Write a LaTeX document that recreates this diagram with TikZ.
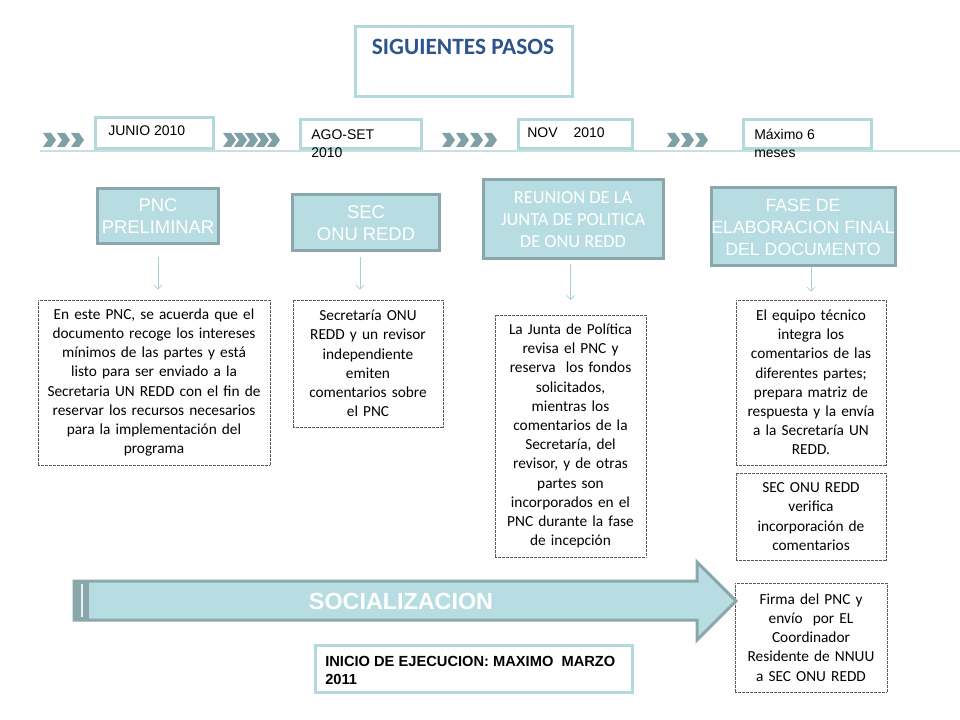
\documentclass[tikz,border=0pt]{standalone}
\usepackage{fontspec}
\setmainfont{Carlito}
\newfontfamily\arial{Liberation Sans}
\usetikzlibrary{arrows.meta}
\definecolor{tealfill}{RGB}{183,221,226}
\definecolor{tealborde}{RGB}{138,168,172}
\definecolor{fechaborde}{RGB}{180,217,221}
\definecolor{lineatiempo}{RGB}{200,222,226}
\definecolor{chevcol}{RGB}{127,160,166}
\definecolor{titulocol}{RGB}{47,84,140}
\definecolor{flechacol}{RGB}{169,208,214}
\begin{document}
\begin{tikzpicture}[x=0.75pt,y=-0.75pt,
  caja/.style={fill=tealfill,draw=tealborde,line width=2.25pt,text=white,align=center,inner sep=0pt,
    font=\arial\fontsize{13.8}{16.5}\selectfont},
  nota/.style={draw=gray!70!black,dash pattern=on 0.5pt off 0.5pt,line width=0.5pt,fill=white,
    align=center,inner sep=0pt,font=\fontsize{11.5}{14.4}\selectfont},
  marco/.style={draw=fechaborde,line width=2.25pt,fill=white},
  fechatxt/.style={align=left,inner sep=0pt,font=\arial\fontsize{10.5}{13.5}\selectfont},
  flecha/.style={draw=flechacol,line width=0.6pt,-{Straight Barb[length=3pt,width=6pt]}},
  chevron/.style={fill=chevcol}]
\useasboundingbox[fill=white] (0,0) rectangle (960,720);

\draw[marco] (355,27) rectangle (572,97);
\node[font=\bfseries\fontsize{17.5}{20}\selectfont,text=titulocol] (titulo) at (463,47) {SIGUIENTES PASOS};

\draw[lineatiempo,line width=1.1pt] (40,151) -- (960,151);
\foreach \x in {43,57,71,223,234,245,256,267,442,456,470,484,667,681,695}
  \fill[chevron] (\x,133) -- ++(8,0) -- ++(5,7) -- ++(-5,7) -- ++(-8,0) -- ++(5,-7) -- cycle;

\draw[marco] (95,118) rectangle (213,149);
\node[fechatxt,anchor=west] (junio) at (108,131) {JUNIO 2010};
\draw[marco] (300,120) rectangle (421,149);
\node[fechatxt,anchor=north west] (agoset) at (311,129) {AGO-SET\\2010};
\draw[marco] (518,120) rectangle (632,149);
\node[fechatxt,anchor=west] (nov) at (527,133) {NOV\hspace{12pt}2010};
\draw[marco] (743,120) rectangle (871,149);
\node[fechatxt,anchor=north west] (maximo) at (754,129) {Máximo 6\\meses};

\node[caja,minimum width=90.75pt,minimum height=41.25pt] (pnc) at (158,216) {PNC\\PRELIMINAR};
\node[caja,minimum width=110.25pt,minimum height=42pt] (sec) at (366,223) {SEC\\ONU REDD};
\node[caja,minimum width=135pt,minimum height=59.25pt,font=\fontsize{13.8}{16.5}\selectfont] (reunion) at (573,219.5) {REUNION DE LA\\JUNTA DE POLITICA\\DE ONU REDD};
\node[caja,minimum width=138pt,minimum height=58.5pt,font=\arial\fontsize{13.3}{16.5}\selectfont] (fase) at (803,227) {FASE DE\\ELABORACION FINAL\\DEL DOCUMENTO};

\node[nota,minimum width=174pt,minimum height=123.75pt,text width=170pt] (txtA) at (154,382.5)
  {En este PNC, se acuerda que el\\documento recoge los intereses\\mínimos de las partes y está\\listo para ser enviado a la\\Secretaria UN REDD con el fin de\\reservar los recursos necesarios\\para la implementación del\\programa};
\node[nota,minimum width=112.5pt,minimum height=95.25pt,text width=108pt] (txtB) at (368,363.5)
  {Secretaría ONU\\REDD y un revisor\\independiente\\emiten\\comentarios sobre\\el PNC};
\node[nota,minimum width=113.25pt,minimum height=181.5pt,text width=109pt] (txtC) at (570.5,436)
  {La Junta de Política\\revisa el PNC y\\reserva\ \ los fondos\\solicitados,\\mientras los\\comentarios de la\\Secretaría, del\\revisor, y de otras\\partes son\\incorporados en el\\PNC durante la fase\\de incepción};
\node[nota,minimum width=112.5pt,minimum height=123.75pt,text width=108pt] (txtD) at (811,382.5)
  {El equipo técnico\\integra los\\comentarios de las\\diferentes partes;\\prepara matriz de\\respuesta y la envía\\a la Secretaría UN\\REDD.};
\node[nota,minimum width=112.5pt,minimum height=65.25pt,text width=108pt] (txtE) at (811,516.5)
  {SEC ONU REDD\\verifica\\incorporación de\\comentarios};
\node[nota,minimum width=114pt,minimum height=81.75pt,text width=110pt] (txtF) at (811,637.5)
  {Firma del PNC y\\envío\ \ por EL\\Coordinador\\Residente de NNUU\\a SEC ONU REDD};

\draw[flecha,shorten <=9pt,shorten >=7.5pt] (pnc.south) -- (pnc.south |- txtA.north);
\draw[flecha,shorten <=3.5pt,shorten >=7.5pt] ([xshift=-4.5pt]sec.south) -- ([xshift=-4.5pt]sec.south |- txtB.north);
\draw[flecha,shorten <=3pt,shorten >=11pt] (reunion.south -| txtC.north) -- (txtC.north);
\draw[flecha,shorten >=6pt] (fase.south -| txtD.north) -- (txtD.north);

\draw[fill=tealfill,draw=tealborde,line width=2.25pt,line join=miter]
  (74,581) -- (697,581) -- (697,562) -- (736,601) -- (697,640) -- (697,620) -- (74,620) -- cycle;
\fill[tealborde] (74,581) rectangle (89,620);
\draw[white!70!tealfill,line width=0.8pt] (82,584) -- (82,617);
\node[text=white,font=\arial\bfseries\fontsize{17.5}{20}\selectfont] (social) at (401,601) {SOCIALIZACION};

\draw[marco] (315,645) rectangle (632,692);
\node[fechatxt,anchor=north west,font=\arial\bfseries\fontsize{11}{13.5}\selectfont] (inicio) at (325,656)
  {INICIO DE EJECUCION: MAXIMO\ \ MARZO\\2011};
\end{tikzpicture}
\end{document}
